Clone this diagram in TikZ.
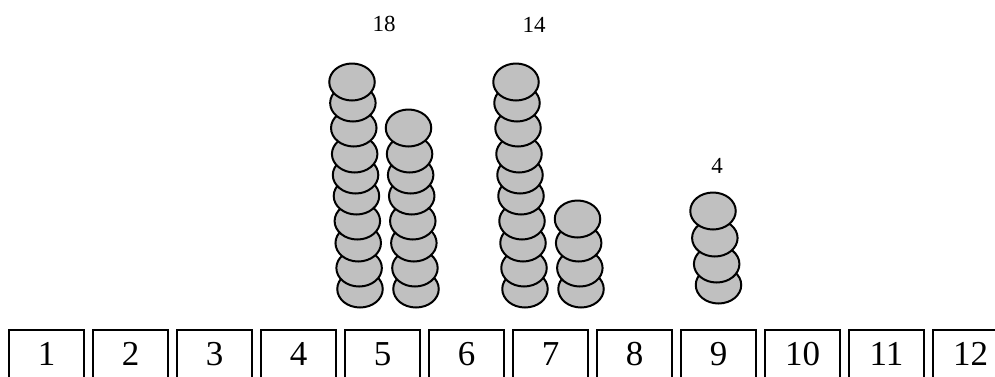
\documentclass[tikz,border=0pt]{standalone}
\usepackage{fontspec}
\setmainfont{Liberation Serif}
\usetikzlibrary{shapes.geometric}
\definecolor{chip}{RGB}{192,192,192}
\tikzset{
  chipnode/.style={ellipse, draw=black, fill=chip, line width=2pt, minimum width=45.5pt, minimum height=37pt, inner sep=0pt},
  numbox/.style={rectangle, draw=black, line width=1.8pt, minimum width=75.5pt, minimum height=48pt, inner sep=0pt, font=\fontsize{35}{35}\selectfont},
  toplabel/.style={inner sep=0pt, font=\fontsize{23}{23}\selectfont}
}
\begin{document}
\begin{tikzpicture}[x=1pt,y=-1pt]
\useasboundingbox (0,0) rectangle (995,376);
\clip (0,0) rectangle (995,376);
% number boxes
\foreach \i in {1,...,12} {
  \node[numbox] (box\i) at ({46.5+84*(\i-1)},354) {\i};
}
% stack 1 (10 chips), drawn bottom first
\foreach \y [count=\k] in {289,268,243,221,196,175,154,128,103,82} {
  \node[chipnode] (sa\k) at ({360-(\k-1)*8/9},\y) {};
}
% stack 2 (8 chips)
\foreach \y [count=\k] in {289,268,243,221,196,175,154,128} {
  \node[chipnode] (sb\k) at ({416-(\k-1)*7.5/7},\y) {};
}
% stack 3 (10 chips)
\foreach \y [count=\k] in {289,268,243,221,196,175,154,128,103,82} {
  \node[chipnode] (sc\k) at ({525-(\k-1)*9/9},\y) {};
}
% stack 4 (4 chips)
\foreach \y [count=\k] in {289,268,243,219} {
  \node[chipnode] (sd\k) at ({581-(\k-1)*3.5/3},\y) {};
}
% stack 5 (4 chips)
\foreach \y [count=\k] in {285,264,238,211} {
  \node[chipnode] (se\k) at ({718.5-(\k-1)*5.5/3},\y) {};
}
% labels
\node[toplabel] (l18) at (384,23.5) {18};
\node[toplabel] (l14) at (534,25) {14};
\node[toplabel] (l4) at (717,165.5) {4};
\end{tikzpicture}
\end{document}
